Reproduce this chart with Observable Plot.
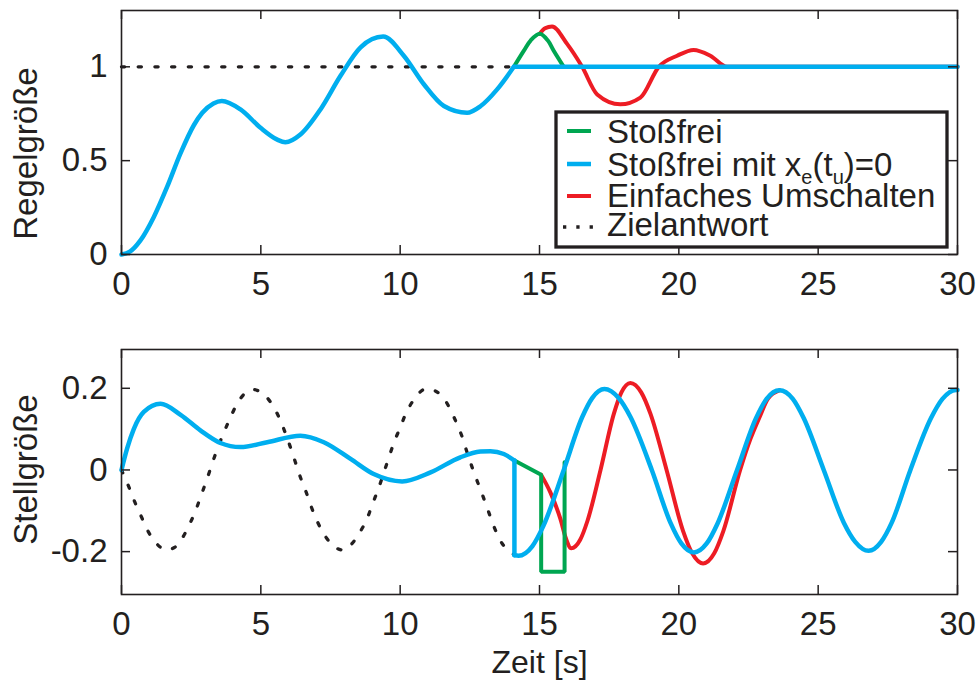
<!DOCTYPE html>
<html><head><meta charset="utf-8">
<script src="https://cdn.jsdelivr.net/npm/d3@7"></script>
<script src="https://cdn.jsdelivr.net/npm/@observablehq/plot@0.6"></script>
<style>body{margin:0;background:#fff;} #chart svg{display:block;}</style>
</head><body><div id="chart"></div>
<script>
// ---------- data ----------
const xTicks = [0, 5, 10, 15, 20, 25, 30];
const yTicksTop = [0, 0.5, 1];
const yTicksBottom = [-0.2, 0, 0.2];
const xLabel = "Zeit [s]";
const yLabelTop = "Regelgröße";
const yLabelBottom = "Stellgröße";
const legendLabels = ["Stoßfrei", "Stoßfrei mit x_e(t_u)=0", "Einfaches Umschalten", "Zielantwort"];

// Regelgröße (top)
const topTarget = [[0, 1], [30, 1]];
const topBlueRise = [[0,0],[0.3,0.015],[0.68,0.075],[1.16,0.2],[1.64,0.361],[2.12,0.54],[2.6,0.69],[2.9,0.755],[3.3,0.805],[3.6,0.818],[4.27,0.773],[4.99,0.675],[5.59,0.612],[5.88,0.598],[6.42,0.639],[7.14,0.773],[7.86,0.952],[8.58,1.104],[9.39,1.161],[10.13,1.059],[10.85,0.907],[11.57,0.791],[12.4,0.755],[12.88,0.79],[13.48,0.88],[14.08,1.0]];
const topBlueHold = [[14.08, 1.0], [30, 1.0]];
const topGreen = [[14.08,1.0],[14.44,1.086],[14.68,1.14],[15.01,1.176],[15.3,1.14],[15.51,1.086],[15.87,1.0]];
const topRed = [[15.01,1.176],[15.2,1.205],[15.45,1.215],[15.99,1.122],[16.53,1.0],[17.07,0.853],[17.9,0.80],[18.62,0.836],[19.28,1.0],[19.94,1.059],[20.53,1.09],[21.13,1.059],[21.73,1.0],[22.3,1.0],[30,1.0]];

// Stellgröße (bottom)
const botTarget = [[0,0],[0.26,-0.041],[0.48,-0.079],[0.71,-0.114],[0.96,-0.151],[1.28,-0.182],[1.6,-0.196],[1.9,-0.19],[2.18,-0.167],[2.45,-0.132],[2.68,-0.096],[2.87,-0.06],[3.07,-0.022],[3.25,0.015],[3.43,0.05],[3.65,0.088],[3.88,0.124],[4.13,0.16],[4.47,0.19],[4.72,0.197],[4.98,0.191],[5.37,0.164],[5.65,0.129],[5.86,0.094],[6.06,0.056],[6.24,0.019],[6.42,-0.018],[6.63,-0.055],[6.82,-0.092],[7.04,-0.128],[7.32,-0.163],[7.7,-0.191],[7.95,-0.196],[8.22,-0.184],[8.55,-0.153],[8.82,-0.118],[9.02,-0.081],[9.23,-0.044],[9.41,-0.007],[9.59,0.029],[9.77,0.066],[9.99,0.102],[10.21,0.139],[10.49,0.172],[10.94,0.199],[11.45,0.185],[11.77,0.152],[12.01,0.117],[12.23,0.08],[12.4,0.043],[12.58,0.007],[12.78,-0.03],[12.98,-0.066],[13.18,-0.104],[13.38,-0.141],[13.62,-0.176],[14.02,-0.204],[14.1,-0.209]];
const botBluePre = [[0,0],[0.2,0.052],[0.44,0.10],[0.8,0.142],[1.4,0.162],[2.12,0.135],[2.83,0.097],[3.55,0.066],[4.27,0.056],[5.23,0.068],[6.42,0.084],[7.26,0.068],[8.22,0.027],[9.05,-0.01],[10.07,-0.028],[11.09,-0.006],[12.16,0.031],[12.88,0.045],[13.24,0.046],[13.72,0.039],[14.1,0.023]];
const botBluePost = [[14.1,-0.209],[14.25,-0.21],[14.74,-0.187],[15.14,-0.137],[15.87,0.0],[16.53,0.129],[16.89,0.176],[17.33,0.198],[17.84,0.176],[18.27,0.129],[19.03,0.0],[19.71,-0.131],[20.09,-0.18],[20.54,-0.202],[21.0,-0.18],[21.39,-0.131],[22.09,0.0],[22.77,0.127],[23.15,0.174],[23.61,0.195],[24.09,0.174],[24.48,0.127],[25.2,0.0],[25.92,-0.129],[26.33,-0.176],[26.81,-0.198],[27.26,-0.176],[27.64,-0.129],[28.31,0.0],[29.05,0.127],[29.46,0.174],[29.95,0.196],[30,0.196]];
const botGreen = [[14.1,0.023],[15.06,-0.012],[15.06,-0.249],[15.9,-0.249],[15.9,0.019]];
const botRed = [[15.06,-0.012],[15.39,-0.055],[15.75,-0.12],[15.95,-0.168],[16.14,-0.192],[16.46,-0.171],[16.72,-0.125],[17.19,0.0],[17.67,0.138],[17.94,0.19],[18.26,0.213],[18.65,0.19],[18.98,0.138],[19.56,0.0],[20.15,-0.149],[20.48,-0.204],[20.87,-0.229],[21.27,-0.204],[21.6,-0.149],[22.2,0.0],[22.57,0.076],[22.9,0.13],[23.2,0.175],[23.61,0.195]];

// ---------- style ----------
const ink = "#231f20";
const font = "'Liberation Sans', Arial, sans-serif";
const COL = {green: "#00a651", blue: "#00aeef", red: "#ed1c24"};
const DOTS = "3.2 13.5";
const SMOOTH = "monotone-x";
const fx = d => d[0], fy = d => d[1];

function panel({height, marginTop, marginBottom, yDomain, yTicks, marks, yLabel, yLabelDy, withXLabel}) {
  const W = 978, mL = 121, mR = 21;
  const iw = W - mL - mR, ih = height - marginTop - marginBottom;
  const extra = withXLabel ? [Plot.text([xLabel], {frameAnchor: "bottom", dy: 56, lineAnchor: "top", textAnchor: "middle", fontSize: 32, fill: ink})] : [];
  return Plot.plot({
    width: W, height, marginLeft: mL, marginRight: mR, marginTop, marginBottom,
    x: {domain: [0, 30]},
    y: {domain: yDomain},
    style: {fontFamily: font, fontSize: "33px", color: ink, background: "#fff"},
    marks: [
      ...marks,
      Plot.tickY(yTicks, {y: d => d, stroke: ink, strokeWidth: 1.5, insetRight: iw - 9}),
      Plot.tickY(yTicks, {y: d => d, stroke: ink, strokeWidth: 1.5, insetLeft: iw - 9}),
      Plot.tickX(xTicks, {x: d => d, stroke: ink, strokeWidth: 1.5, insetTop: ih - 9}),
      Plot.tickX(xTicks, {x: d => d, stroke: ink, strokeWidth: 1.5, insetBottom: ih - 9}),
      Plot.frame({stroke: ink, strokeWidth: 1.6}),
      Plot.axisY(yTicks, {tickSize: 0, tickPadding: 14, label: null, fontSize: 33, fill: ink, tickFormat: d => String(d)}),
      Plot.axisX(xTicks, {tickSize: 0, tickPadding: 17, label: null, fontSize: 33, fill: ink, tickFormat: d => String(d)}),
      Plot.text([yLabel], {frameAnchor: "left", textAnchor: "middle", rotate: -90, dx: -95, dy: yLabelDy, fontSize: 33, fill: ink}),
      ...extra
    ]
  });
}

const lineOpts = (stroke, w, curve) => ({x: fx, y: fy, stroke, strokeWidth: w, curve, strokeLinejoin: "round"});

const topPlot = panel({
  height: 310, marginTop: 10, marginBottom: 56,
  yDomain: [0, 1.3], yTicks: yTicksTop, yLabel: yLabelTop, yLabelDy: 21,
  marks: [
    Plot.line(topTarget, {x: fx, y: fy, stroke: ink, strokeWidth: 3.3, strokeDasharray: DOTS}),
    Plot.line(topRed, lineOpts(COL.red, 4, SMOOTH)),
    Plot.line(topGreen, lineOpts(COL.green, 4, "catmull-rom")),
    Plot.line(topBlueRise, lineOpts(COL.blue, 4.5, SMOOTH)),
    Plot.line(topBlueHold, lineOpts(COL.blue, 4.5, "linear"))
  ]
});

const botPlot = panel({
  height: 370, marginTop: 39, marginBottom: 86,
  yDomain: [-0.305, 0.295], yTicks: yTicksBottom, yLabel: yLabelBottom, yLabelDy: -2.5, withXLabel: true,
  marks: [
    Plot.line(botTarget, {x: fx, y: fy, stroke: ink, strokeWidth: 3.3, strokeDasharray: DOTS, curve: SMOOTH}),
    Plot.line(botRed, lineOpts(COL.red, 4, SMOOTH)),
    Plot.line(botGreen, {x: fx, y: fy, stroke: COL.green, strokeWidth: 4, strokeLinejoin: "miter"}),
    Plot.line(botBluePre, lineOpts(COL.blue, 4.5, SMOOTH)),
    Plot.line([botBluePre[botBluePre.length - 1], botBluePost[0]], lineOpts(COL.blue, 4.5, "linear")),
    Plot.line(botBluePost, lineOpts(COL.blue, 4.5, SMOOTH))
  ]
});

const root = document.getElementById("chart");
root.appendChild(topPlot);
root.appendChild(botPlot);

// ---------- legend (inside top panel) ----------
const lg = d3.select(topPlot).append("g").attr("font-family", font).attr("fill", ink).attr("text-anchor", "start");
lg.append("rect").attr("x", 556).attr("y", 112).attr("width", 391).attr("height", 135)
  .attr("fill", "#fff").attr("stroke", ink).attr("stroke-width", 3.3);
const rowBase = [142.7, 176, 206.7, 236];
const rowLine = [131, 164, 196, 227];
const rowStyle = [
  {stroke: COL.green, w: 4, dash: null, x1: 567, x2: 591},
  {stroke: COL.blue, w: 4.5, dash: null, x1: 567, x2: 591},
  {stroke: COL.red, w: 4, dash: null, x1: 567, x2: 591},
  {stroke: ink, w: 3.3, dash: "3.3 10", x1: 563, x2: 602}
];
legendLabels.forEach((lab, i) => {
  const s = rowStyle[i];
  const ln = lg.append("line").attr("x1", s.x1).attr("x2", s.x2).attr("y1", rowLine[i]).attr("y2", rowLine[i])
    .attr("stroke", s.stroke).attr("stroke-width", s.w);
  if (s.dash) ln.attr("stroke-dasharray", s.dash);
  const t = lg.append("text").attr("x", 607).attr("y", rowBase[i]).attr("font-size", 33).attr("text-anchor", "start");
  const parts = lab.split(/_(\w)/);
  parts.forEach((p, j) => {
    if (j % 2 === 1) {
      t.append("tspan").attr("font-size", 20).attr("dy", 8).text(p);
    } else if (p.length) {
      const sp = t.append("tspan").text(p);
      if (j > 0) sp.attr("dy", -8);
    }
  });
});
</script>
</body></html>
